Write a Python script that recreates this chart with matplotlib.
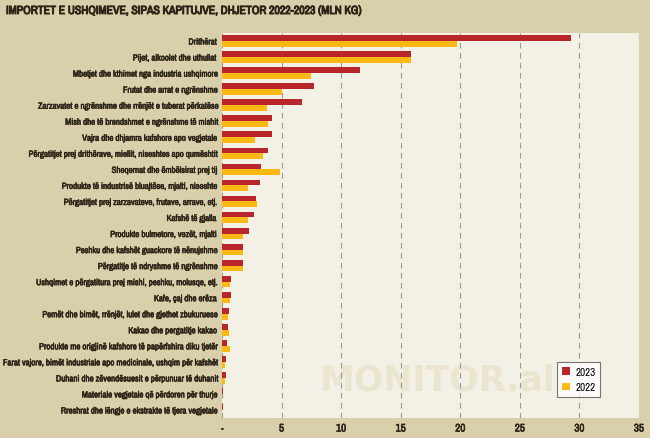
import matplotlib
matplotlib.use("Agg")
import matplotlib.pyplot as plt
import matplotlib.patheffects as pe
from matplotlib import font_manager
import numpy as np

categories = [
    "Drithërat",
    "Pijet, alkoolet dhe uthullat",
    "Mbetjet dhe kthimet nga industria ushqimore",
    "Frutat dhe arrat e ngrënshme",
    "Zarzavatet e ngrënshme dhe rrënjët e tuberat përkatëse",
    "Mish dhe të brendshmet e ngrënshme të mishit",
    "Vajra dhe dhjamra kafshore apo vegjetale",
    "Përgatitjet prej drithërave, miellit, niseshtes apo qumështit",
    "Sheqernat dhe ëmbëlsirat prej tij",
    "Produkte të industrisë bluajtëse, mjalti, niseshte",
    "Përgatitjet prej zarzavateve, frutave, arrave, etj.",
    "Kafshë të gjalla",
    "Produkte bulmetore, vezët, mjalti",
    "Peshku dhe kafshët guackore të nënujshme",
    "Përgatitje të ndryshme të ngrënshme",
    "Ushqimet e përgatitura prej mishi, peshku, molusqe, etj.",
    "Kafe, çaj dhe erëza",
    "Pemët dhe bimët, rrënjët, lulet dhe gjethet zbukuruese",
    "Kakao dhe pergatitje kakao",
    "Produkte me origjinë kafshore të papërfshira diku tjetër",
    "Farat vajore, bimët industriale apo medicinale, ushqim për kafshët",
    "Duhani dhe zëvendësuesit e përpunuar të duhanit",
    "Materiale vegjetale që përdoren për thurje",
    "Rreshrat dhe lëngje e ekstrakte të tjera vegjetale",
]
values_2023 = [29.3, 15.9, 11.6, 7.7, 6.75, 4.2, 4.2, 3.9, 3.3, 3.15, 2.85, 2.65,
               2.25, 1.8, 1.8, 0.75, 0.75, 0.55, 0.48, 0.4, 0.32, 0.32, 0.05, 0.05]
values_2022 = [19.7, 15.85, 7.45, 5.0, 3.75, 3.85, 2.8, 3.4, 4.85, 2.15, 2.9, 2.15,
               1.8, 1.75, 1.75, 0.65, 0.65, 0.48, 0.56, 0.65, 0.23, 0.28, 0.03, 0.03]
xticks = [0, 5, 10, 15, 20, 25, 30, 35]
xtick_labels = ["-", "5", "10", "15", "20", "25", "30", "35"]

BG = "#d9d0ab"
PLOT_BG = "#f3f0e6"
RED = "#b8262c"
YELLOW = "#fdb913"
TEXT = "#2b2417"

# pick a narrow font if one is installed
names = sorted({f.name for f in font_manager.fontManager.ttflist})
narrow = [n for n in names if "Narrow" in n or "Condensed" in n]
fam = narrow[0] if narrow else "DejaVu Sans"
plt.rcParams["font.family"] = [fam, "DejaVu Sans"]

# fake a heavier weight with a thin stroke
heavy = [pe.withStroke(linewidth=0.4, foreground=TEXT)]

fig = plt.figure(figsize=(6.5, 4.39), dpi=100, facecolor=BG)
ax = fig.add_axes([222 / 650, 20 / 439, 417 / 650, 385 / 439])
ax.set_facecolor(PLOT_BG)

n = len(categories)
y = np.arange(n)
h = 0.36
ax.barh(y - h / 2, values_2023, height=h, color=RED, label="2023", zorder=3)
ax.barh(y + h / 2, values_2022, height=h, color=YELLOW, label="2022", zorder=3)

ax.set_ylim(n - 0.5, -0.5)
ax.set_xlim(0, 35)
ax.set_yticks(y)
ax.set_yticklabels(categories, fontsize=6.4, color=TEXT)
ax.set_xticks(xticks)
ax.set_xticklabels(xtick_labels, fontsize=8, color=TEXT)
ax.tick_params(length=0, pad=4)
for lbl in ax.get_yticklabels() + ax.get_xticklabels():
    lbl.set_path_effects(heavy)

ax.grid(axis="x", color="#999999", linestyle=(0, (5, 4)), linewidth=0.8, zorder=1)
for s in ax.spines.values():
    s.set_visible(False)

ax.text(0.516, 0.1, "MONITOR.al", transform=ax.transAxes, ha="center", va="center",
        fontsize=25, fontweight="bold", color="#ebe5cf", family="DejaVu Sans", zorder=0.5)

leg = ax.legend(loc="lower right", bbox_to_anchor=(0.906, 0.055), fontsize=8,
                handlelength=0.7, handleheight=0.7, handletextpad=0.5,
                frameon=True, fancybox=False, borderpad=0.4, labelspacing=0.5,
                borderaxespad=0)
leg.get_frame().set_edgecolor("#555555")
leg.get_frame().set_facecolor("white")
leg.get_frame().set_linewidth(0.8)

fig.text(6 / 650, 1 - 12 / 439, "IMPORTET E USHQIMEVE, SIPAS KAPITUJVE, DHJETOR 2022-2023 (MLN KG)",
         fontsize=8.5, fontweight="bold", color=TEXT, va="center", ha="left",
         path_effects=[pe.withStroke(linewidth=0.7, foreground=TEXT)])

fig.savefig("out.png", dpi=100, facecolor=BG)
